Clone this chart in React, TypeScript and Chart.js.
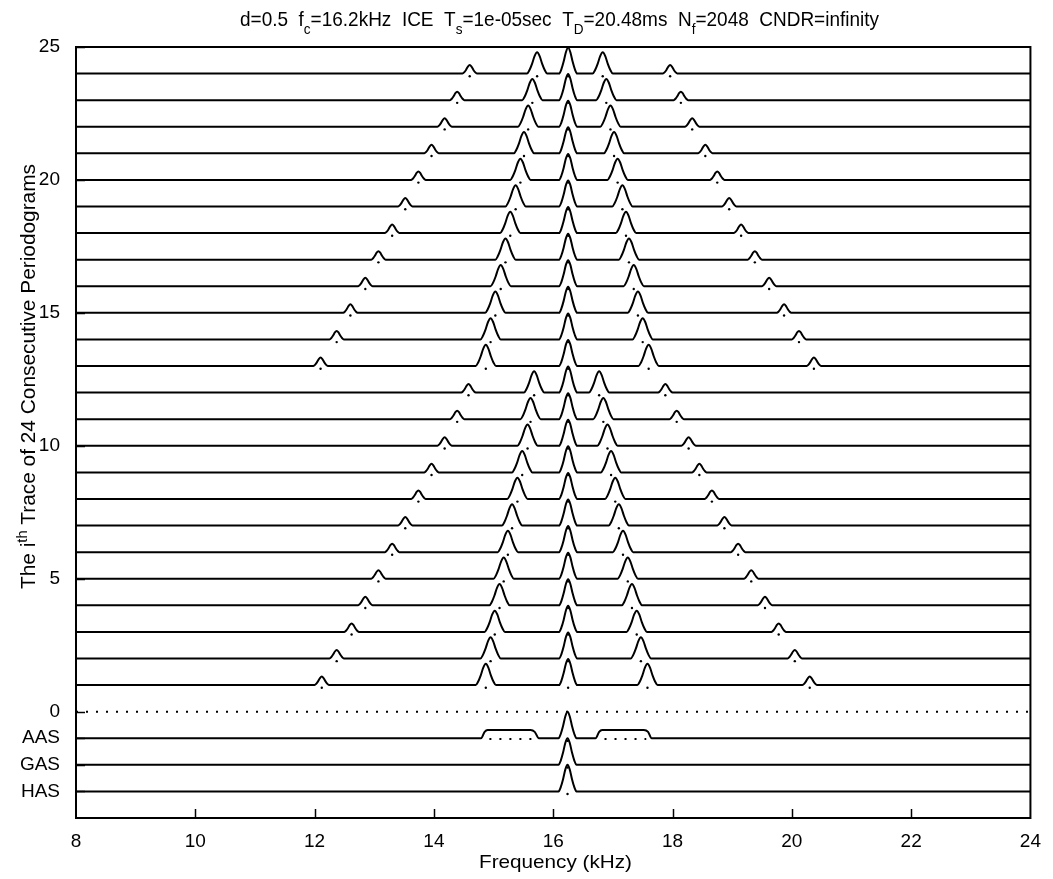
import React, { useEffect, useRef } from 'react';
import { Chart, registerables } from 'chart.js';

Chart.register(...registerables);

// ---- axes ----
const X_MIN = 8;
const X_MAX = 24;
const Y_MIN = -4;
const Y_MAX = 25;
const X_TICKS = [8, 10, 12, 14, 16, 18, 20, 22, 24];
const Y_TICK_VALUES = [-3, -2, -1, 0, 5, 10, 15, 20, 25];
const Y_TICK_LABELS = ['HAS', 'GAS', 'AAS', '0', '5', '10', '15', '20', '25'];

// ---- periodogram traces (rows 1..24), peak frequencies in kHz ----
const TRACE_ROWS = [1, 2, 3, 4, 5, 6, 7, 8, 9, 10, 11, 12, 13, 14, 15, 16, 17, 18, 19, 20, 21, 22, 23, 24];
const CENTER_FREQ = 16.25;
const LEFT_OUTER = [12.12, 12.37, 12.62, 12.85, 13.07, 13.3, 13.52, 13.74, 13.96, 14.18, 14.39, 14.58, 12.1, 12.37, 12.6, 12.85, 13.07, 13.3, 13.52, 13.74, 13.96, 14.18, 14.39, 14.6];
const LEFT_SIDE = [14.87, 14.95, 15.02, 15.1, 15.17, 15.24, 15.31, 15.4, 15.48, 15.57, 15.62, 15.68, 14.87, 14.95, 15.03, 15.12, 15.2, 15.28, 15.37, 15.45, 15.51, 15.58, 15.65, 15.73];
const RIGHT_SIDE = [17.58, 17.47, 17.4, 17.32, 17.25, 17.17, 17.1, 17.04, 16.97, 16.91, 16.84, 16.77, 17.6, 17.5, 17.42, 17.35, 17.27, 17.22, 17.16, 17.08, 17.02, 16.96, 16.89, 16.83];
const RIGHT_OUTER = [20.3, 20.05, 19.78, 19.55, 19.32, 19.1, 18.87, 18.66, 18.45, 18.27, 18.07, 17.88, 20.37, 20.12, 19.87, 19.62, 19.38, 19.15, 18.95, 18.75, 18.55, 18.33, 18.14, 17.96];
const CENTER_HEIGHT = 0.98;
const SIDE_HEIGHT = 0.8;
const OUTER_HEIGHT = 0.32;
const CENTER_HALF_WIDTH = 0.15;
const SIDE_HALF_WIDTH = 0.17;
const OUTER_HALF_WIDTH = 0.12;

// peak profile (offset in half-widths, relative height)
const PEAK_PROFILE_DX = [-1, -0.75, -0.5, -0.25, 0, 0.25, 0.5, 0.75, 1];
const PEAK_PROFILE_Y = [0, 0.17, 0.46, 0.82, 1, 0.82, 0.46, 0.17, 0];

// ---- reference spectra: AAS (-1), GAS (-2), HAS (-3) ----
const REF_ROWS = [-1, -2, -3];
const REF_CENTER = 16.24;
const REF_HEIGHT = 1.0;
const AAS_PLATEAU_X = [[14.79, 14.85, 14.9, 15.62, 15.69, 15.76], [16.71, 16.77, 16.82, 17.52, 17.59, 17.65]];
const AAS_PLATEAU_Y = [0, 0.24, 0.31, 0.31, 0.24, 0];
const AAS_DOTTED = [[14.93, 15.64], [16.86, 17.56]];

// ---- text ----
const TITLE_PARTS = [
  { t: 'd=0.5  f' }, { t: 'c', sub: true }, { t: '=16.2kHz  ICE  T' }, { t: 's', sub: true },
  { t: '=1e-05sec  T' }, { t: 'D', sub: true }, { t: '=20.48ms  N' }, { t: 'f', sub: true },
  { t: '=2048  CNDR=infinity' },
];
const Y_LABEL_PARTS = [{ t: 'The i' }, { t: 'th', sup: true }, { t: ' Trace of 24 Consecutive Periodograms' }];
const X_LABEL = 'Frequency (kHz)';

const FONT = 'Liberation Sans, Arial, Helvetica, sans-serif';

type Part = { t: string; sub?: boolean; sup?: boolean };

function peakPoints(c: number, h: number, w: number, base: number) {
  return PEAK_PROFILE_DX.map((dx, i) => ({ x: c + dx * w, y: base + PEAK_PROFILE_Y[i] * h }));
}

function buildTrace(idx: number) {
  const row = TRACE_ROWS[idx];
  const peaks = [
    [LEFT_OUTER[idx], OUTER_HEIGHT, OUTER_HALF_WIDTH],
    [LEFT_SIDE[idx], SIDE_HEIGHT, SIDE_HALF_WIDTH],
    [CENTER_FREQ, CENTER_HEIGHT, CENTER_HALF_WIDTH],
    [RIGHT_SIDE[idx], SIDE_HEIGHT, SIDE_HALF_WIDTH],
    [RIGHT_OUTER[idx], OUTER_HEIGHT, OUTER_HALF_WIDTH],
  ].sort((a, b) => a[0] - b[0]);
  const pts: { x: number; y: number }[] = [{ x: X_MIN, y: row }];
  peaks.forEach((p) => pts.push(...peakPoints(p[0], p[1], p[2], row)));
  pts.push({ x: X_MAX, y: row });
  return { pts, centers: peaks.map((p) => ({ x: p[0], y: row - 0.1 })) };
}

function buildRef(row: number) {
  const pts: { x: number; y: number }[] = [{ x: X_MIN, y: row }];
  if (row === -1) {
    pts.push(...AAS_PLATEAU_X[0].map((x, i) => ({ x, y: row + AAS_PLATEAU_Y[i] })));
    pts.push(...peakPoints(REF_CENTER, REF_HEIGHT, CENTER_HALF_WIDTH, row));
    pts.push(...AAS_PLATEAU_X[1].map((x, i) => ({ x, y: row + AAS_PLATEAU_Y[i] })));
  } else {
    pts.push(...peakPoints(REF_CENTER, REF_HEIGHT, CENTER_HALF_WIDTH, row));
  }
  pts.push({ x: X_MAX, y: row });
  return pts;
}

function partsWidth(ctx: CanvasRenderingContext2D, parts: Part[], size: number, small: number) {
  let w = 0;
  parts.forEach((p) => {
    ctx.font = `${p.sub || p.sup ? small : size}px ${FONT}`;
    w += ctx.measureText(p.t).width;
  });
  return w;
}

function drawParts(ctx: CanvasRenderingContext2D, parts: Part[], size: number, small: number, targetW: number, shift: number) {
  const w = partsWidth(ctx, parts, size, small);
  const sx = targetW / w;
  ctx.save();
  ctx.scale(sx, 1);
  let x = 0;
  parts.forEach((p) => {
    ctx.font = `${p.sub || p.sup ? small : size}px ${FONT}`;
    const dy = p.sub ? shift : p.sup ? -shift : 0;
    ctx.fillText(p.t, x, dy);
    x += ctx.measureText(p.t).width;
  });
  ctx.restore();
}

const decorPlugin = {
  id: 'decor',
  afterDraw(chart: any) {
    const { ctx, chartArea: a, scales } = chart;
    ctx.save();
    ctx.strokeStyle = '#000';
    ctx.fillStyle = '#000';
    ctx.lineWidth = 2;
    ctx.strokeRect(a.left, a.top, a.right - a.left, a.bottom - a.top);
    ctx.lineWidth = 1.5;
    const TL = 9;
    X_TICKS.forEach((v) => {
      if (v === X_MIN || v === X_MAX) return;
      const px = Math.round(scales.x.getPixelForValue(v)) + 0.5;
      ctx.beginPath();
      ctx.moveTo(px, a.bottom);
      ctx.lineTo(px, a.bottom - TL);
      ctx.stroke();
    });
    Y_TICK_VALUES.forEach((v) => {
      const py = Math.round(scales.y.getPixelForValue(v)) + 0.5;
      ctx.beginPath();
      ctx.moveTo(a.left, py);
      ctx.lineTo(a.left + TL, py);
      ctx.stroke();
    });
    ctx.textBaseline = 'alphabetic';
    ctx.textAlign = 'left';
    // title
    ctx.save();
    ctx.translate(240, 26);
    drawParts(ctx, TITLE_PARTS, 21, 15, 639, 8);
    ctx.restore();
    // y label
    ctx.save();
    ctx.translate(35, 589);
    ctx.rotate(-Math.PI / 2);
    drawParts(ctx, Y_LABEL_PARTS, 20, 14, 425, 8);
    ctx.restore();
    // x label
    ctx.save();
    ctx.translate(479, 868);
    drawParts(ctx, [{ t: X_LABEL }], 19, 14, 153, 0);
    ctx.restore();
    ctx.restore();
  },
};

export default function App() {
  const ref = useRef<HTMLCanvasElement | null>(null);
  useEffect(() => {
    if (!ref.current) return;
    const datasets: any[] = [];
    const centers: { x: number; y: number }[] = [];
    TRACE_ROWS.forEach((_, i) => {
      const tr = buildTrace(i);
      centers.push(...tr.centers);
      datasets.push({ data: tr.pts, showLine: true, borderColor: '#000', borderWidth: 2, pointRadius: 0, cubicInterpolationMode: 'monotone' });
    });
    REF_ROWS.forEach((r) => {
      datasets.push({ data: buildRef(r), showLine: true, borderColor: '#000', borderWidth: 2, pointRadius: 0, cubicInterpolationMode: 'monotone' });
      centers.push({ x: REF_CENTER, y: r - 0.1 });
    });
    datasets.push({ data: [{ x: X_MIN, y: 0 }, { x: X_MAX, y: 0 }], showLine: true, borderColor: '#000', borderWidth: 2, borderDash: [2, 8], pointRadius: 0 });
    AAS_DOTTED.forEach((seg) => {
      datasets.push({ data: [{ x: seg[0], y: -1.03 }, { x: seg[1], y: -1.03 }], showLine: true, borderColor: '#000', borderWidth: 2, borderDash: [2, 8], pointRadius: 0 });
    });
    datasets.push({ data: centers, showLine: false, pointRadius: 1.2, pointBackgroundColor: '#000', pointBorderWidth: 0 });

    const chart = new Chart(ref.current, {
      type: 'scatter',
      data: { datasets },
      plugins: [decorPlugin],
      options: {
        animation: false,
        responsive: false,
        devicePixelRatio: 1,
        layout: { padding: { top: 47, right: 17, left: 0, bottom: 0 } },
        plugins: { legend: { display: false }, tooltip: { enabled: false }, title: { display: false } },
        elements: { line: { tension: 0 } },
        scales: {
          x: {
            type: 'linear', min: X_MIN, max: X_MAX,
            afterFit: (s: any) => { s.height = 61; },
            afterBuildTicks: (s: any) => { s.ticks = X_TICKS.map((v) => ({ value: v })); },
            grid: { display: false, drawTicks: false },
            border: { display: false },
            ticks: { color: '#000', font: { family: FONT, size: 19 }, padding: 12, maxRotation: 0, autoSkip: false },
          },
          y: {
            type: 'linear', min: Y_MIN, max: Y_MAX,
            afterFit: (s: any) => { s.width = 76; },
            afterBuildTicks: (s: any) => { s.ticks = Y_TICK_VALUES.map((v) => ({ value: v })); },
            grid: { display: false, drawTicks: false },
            border: { display: false },
            ticks: {
              color: '#000', font: { family: FONT, size: 19 }, padding: 16, autoSkip: false,
              callback: (v: any) => { const i = Y_TICK_VALUES.indexOf(Number(v)); return i >= 0 ? Y_TICK_LABELS[i] : ''; },
            },
          },
        },
      },
    });
    return () => chart.destroy();
  }, []);
  return (
    <div style={{ position: 'fixed', left: 0, top: 0, width: 1053, height: 879, background: '#fff' }}>
      <canvas ref={ref} width={1053} height={879} />
    </div>
  );
}
